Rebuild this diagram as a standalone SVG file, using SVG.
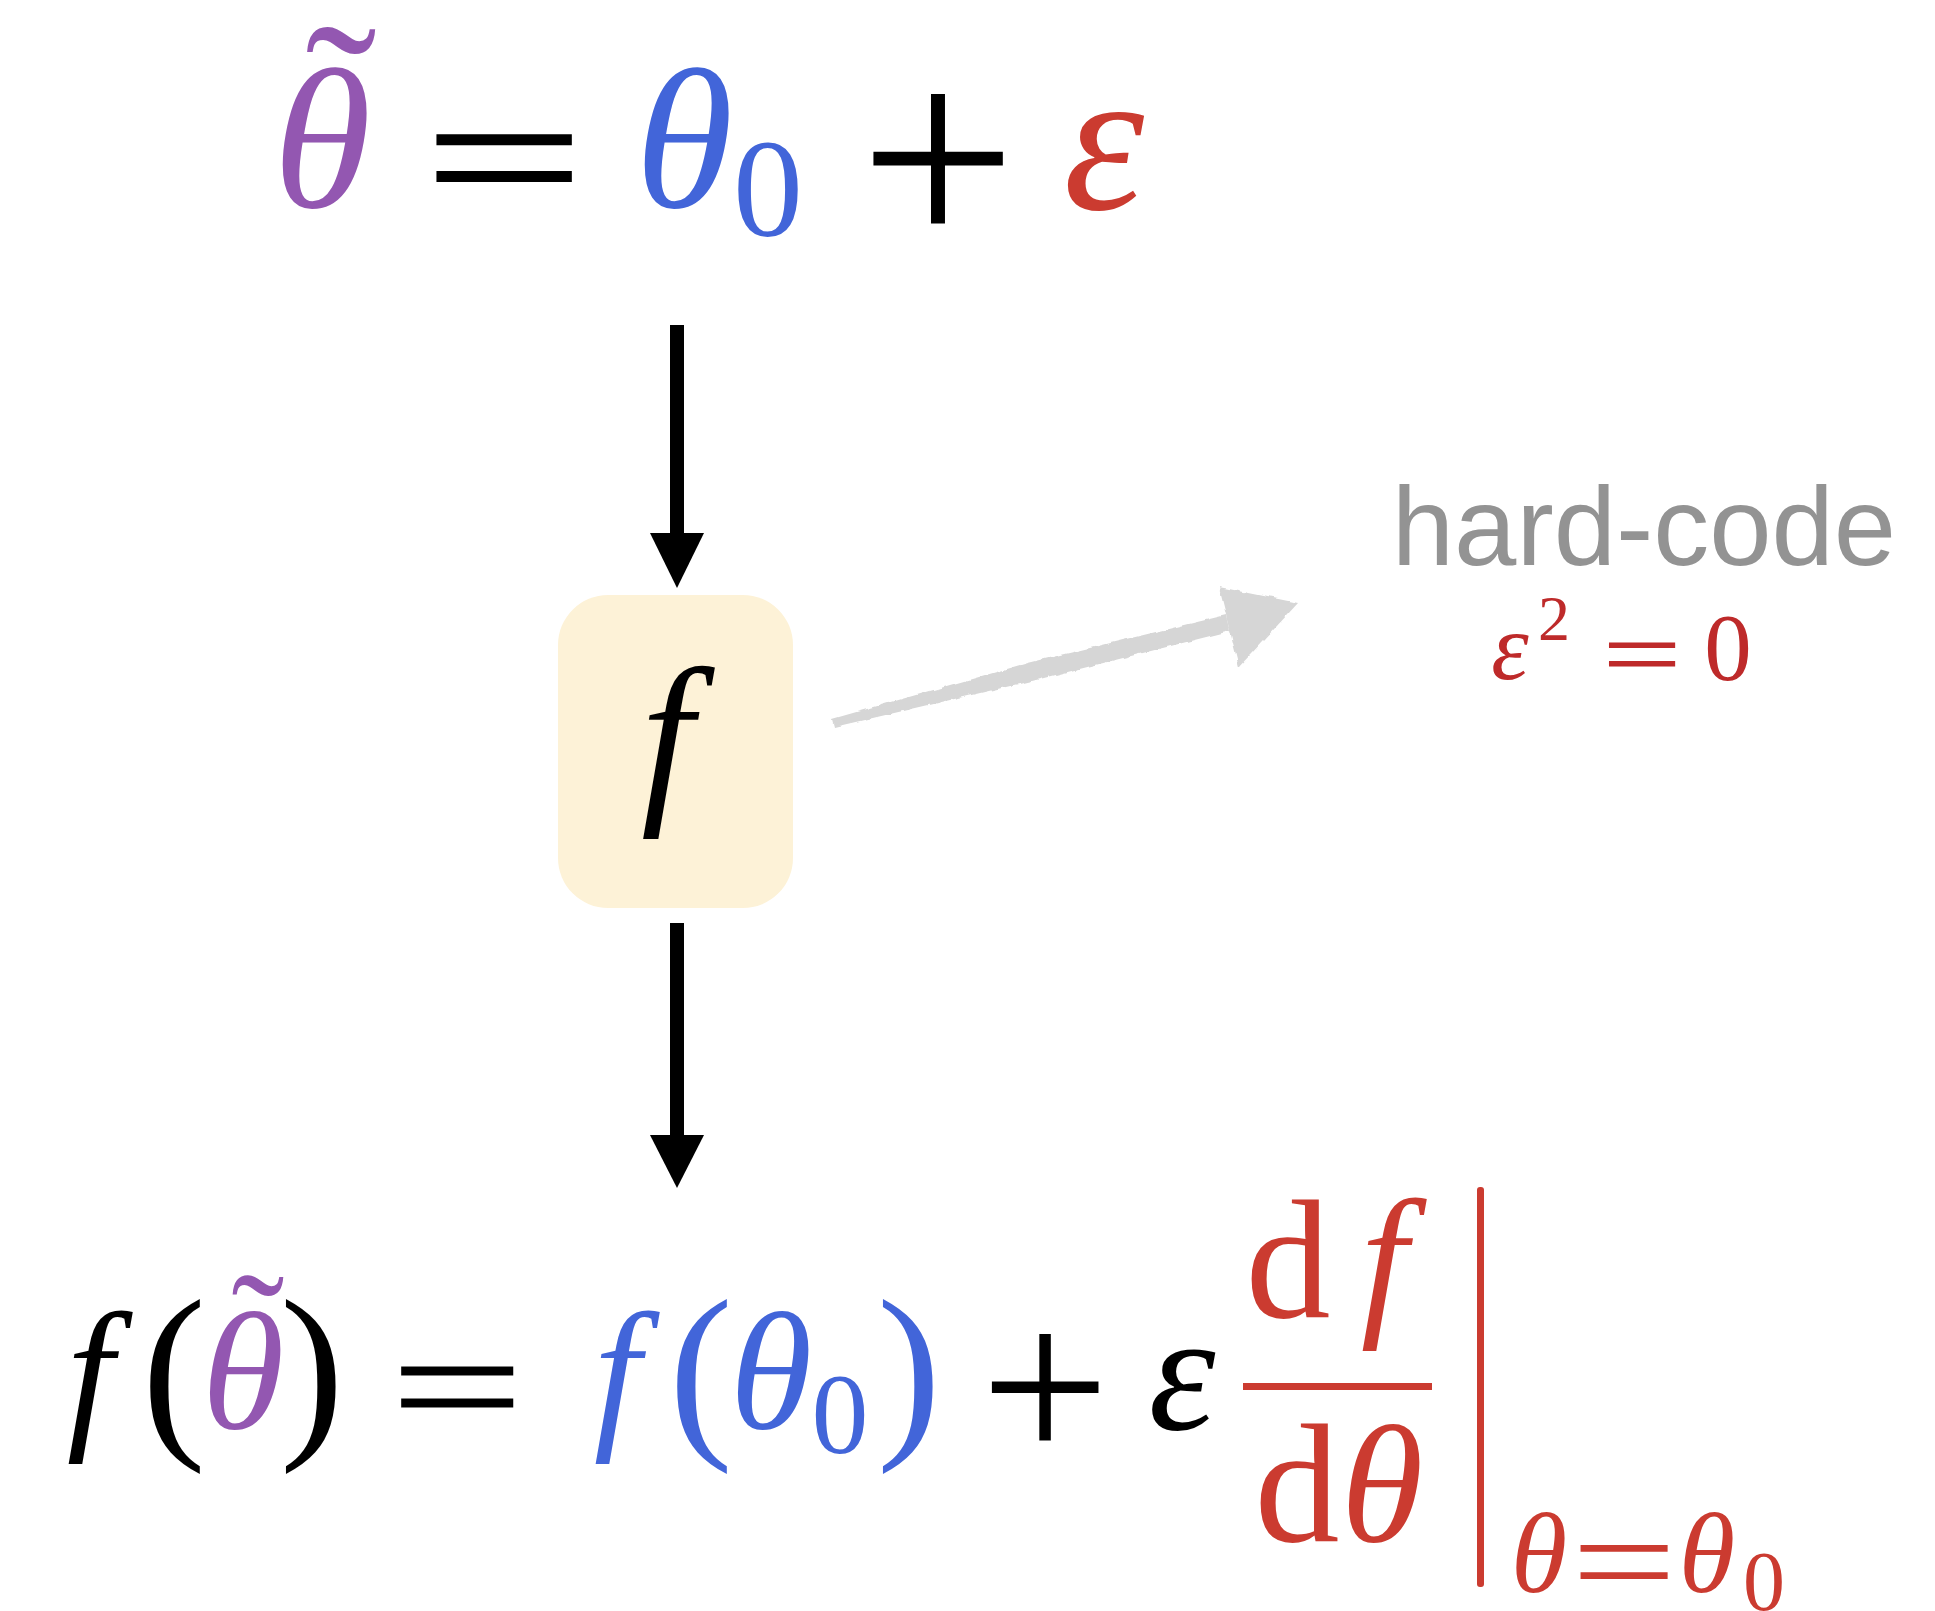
<svg xmlns="http://www.w3.org/2000/svg" width="1935" height="1611" viewBox="0 0 1935 1611">
<style>
.m{font-family:"Liberation Serif","Times New Roman",serif;text-anchor:middle}
.i{font-style:italic}
.pu{fill:#9357B1}
.bl{fill:#4265D9}
.rd{fill:#CB3B30}
.rd2{fill:#BE2A2A}
.bk{fill:#000}
</style>
<defs>
  <filter id="rough" x="-10%" y="-30%" width="120%" height="160%">
    <feTurbulence type="fractalNoise" baseFrequency="0.09" numOctaves="2" seed="3" result="n"/>
    <feDisplacementMap in="SourceGraphic" in2="n" scale="5" xChannelSelector="R" yChannelSelector="G"/>
  </filter>
</defs>
<rect width="1935" height="1611" fill="#fff"/>
<g id="connectors">
  <rect x="670" y="325" width="14" height="210" fill="#000"/>
  <polygon points="650,533 704,533 677,588" fill="#000"/>
  <rect x="670" y="923" width="14" height="214" fill="#000"/>
  <polygon points="650,1135 704,1135 677,1188" fill="#000"/>
  <g fill="#D6D6D6" filter="url(#rough)">
    <polygon points="832,719 1028,663 1226,615 1230,631 1032,681 834,727"/>
    <polygon points="1219,587 1239,667 1298,603"/>
  </g>
</g>
<g id="eq-top">
  <text class="m i pu" font-size="200"><tspan x="322" y="207">θ</tspan><tspan x="341" y="171" font-size="215" font-style="normal">˜</tspan></text>
  <g transform="translate(504,157.5) scale(1.424,0.918)"><text class="m bk" x="0" y="67" font-size="200" stroke="#000" stroke-width="2">=</text></g>
  <text class="m i bl" x="684" y="207" font-size="200">θ</text>
  <text class="m bl" x="768" y="236" font-size="140">0</text>
  <text class="m bk" x="938" y="251" font-size="278">+</text>
  <text class="m i rd" x="1104" y="209" font-size="205">ε</text>
</g>
<g id="node-f">
  <rect x="558" y="595" width="235" height="313" rx="50" fill="#FDF2D7"/>
  <text class="m i bk" x="667" y="799" font-size="188">f</text>
</g>
<g id="label-hardcode">
  <text x="1644" y="565" font-family="'Liberation Sans',Arial,sans-serif" font-size="112" fill="#939393" text-anchor="middle">hard-code</text>
  <text class="m i rd2" x="1510" y="679" font-size="95">ε</text>
  <text class="m rd2" x="1554" y="640" font-size="64">2</text>
  <g transform="translate(1642,654.5) scale(0.696,0.459)"><text class="m rd2" x="0" y="67" font-size="200" stroke="#BE2A2A" stroke-width="2">=</text></g>
  <text class="m rd2" x="1728" y="680" font-size="95">0</text>
</g>
<g id="eq-bottom">
  <text class="m i bk" x="90" y="1428" font-size="168">f</text>
  <text class="m bk" x="174" y="1433" font-size="193">(</text>
  <text class="m i pu" font-size="168"><tspan x="243" y="1428">θ</tspan><tspan x="258" y="1384" font-size="160" font-style="normal">˜</tspan></text>
  <text class="m bk" x="312" y="1433" font-size="193">)</text>
  <g transform="translate(457,1386.5) scale(1.185,0.797)"><text class="m bk" x="0" y="67" font-size="200" stroke="#000" stroke-width="1.5">=</text></g>
  <text class="m i bl" x="617" y="1428" font-size="168">f</text>
  <text class="m bl" x="701" y="1433" font-size="193">(</text>
  <text class="m i bl" x="771" y="1428" font-size="168">θ</text>
  <text class="m bl" x="840" y="1453" font-size="114">0</text>
  <text class="m bl" x="909" y="1433" font-size="193">)</text>
  <text class="m bk" x="1045" y="1463" font-size="229">+</text>
  <text class="m i bk" x="1182" y="1429" font-size="170">ε</text>
  <text class="m rd" x="1288" y="1317" font-size="170">d</text>
  <text class="m i rd" x="1384" y="1315" font-size="168">f</text>
  <rect x="1243" y="1383" width="189" height="7" fill="#CB3B30"/>
  <text class="m rd" x="1297" y="1541" font-size="170">d</text>
  <text class="m i rd" x="1382" y="1541" font-size="168">θ</text>
  <rect x="1477" y="1187" width="7" height="400" rx="3" fill="#CB3B30"/>
  <text class="m i rd" x="1539" y="1592" font-size="115">θ</text>
  <g transform="translate(1624,1562) scale(0.935,0.676)"><text class="m rd" x="0" y="67" font-size="200">=</text></g>
  <text class="m i rd" x="1707" y="1592" font-size="115">θ</text>
  <text class="m rd" x="1764" y="1610" font-size="84">0</text>
</g>
</svg>
